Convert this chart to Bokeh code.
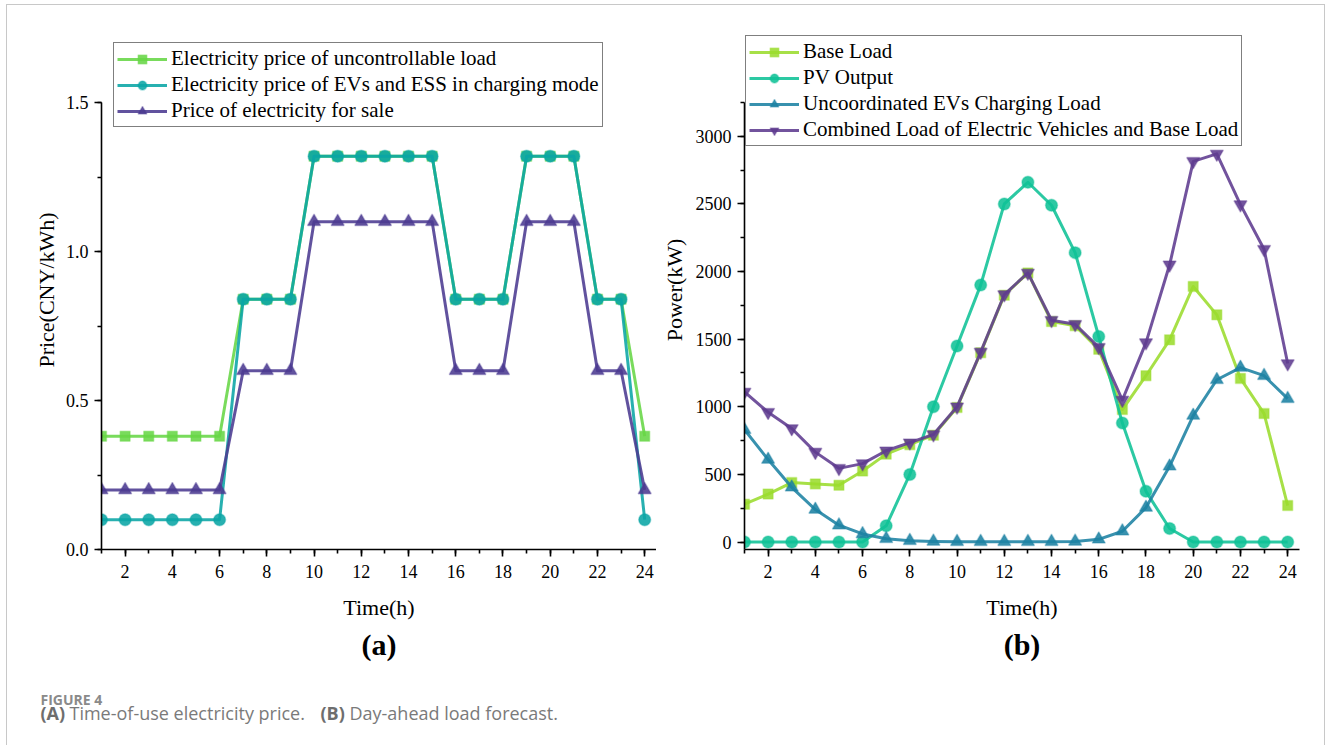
from bokeh.plotting import figure
from bokeh.models import Range1d, SingleIntervalTicker, Title, Label, NumeralTickFormatter
from bokeh.layouts import column, row
from bokeh.embed import file_html
from bokeh.resources import INLINE

# ---------------- data ----------------
hours = [1, 2, 3, 4, 5, 6, 7, 8, 9, 10, 11, 12, 13, 14, 15, 16, 17, 18, 19, 20, 21, 22, 23, 24]

price_uncontrollable = [0.38, 0.38, 0.38, 0.38, 0.38, 0.38, 0.84, 0.84, 0.84, 1.32, 1.32, 1.32,
                        1.32, 1.32, 1.32, 0.84, 0.84, 0.84, 1.32, 1.32, 1.32, 0.84, 0.84, 0.38]
price_ev_ess = [0.10, 0.10, 0.10, 0.10, 0.10, 0.10, 0.84, 0.84, 0.84, 1.32, 1.32, 1.32,
                1.32, 1.32, 1.32, 0.84, 0.84, 0.84, 1.32, 1.32, 1.32, 0.84, 0.84, 0.10]
price_sale = [0.20, 0.20, 0.20, 0.20, 0.20, 0.20, 0.60, 0.60, 0.60, 1.10, 1.10, 1.10,
              1.10, 1.10, 1.10, 0.60, 0.60, 0.60, 1.10, 1.10, 1.10, 0.60, 0.60, 0.20]

base_load = [280, 355, 440, 430, 420, 525, 650, 720, 790, 995, 1400, 1825,
             1990, 1630, 1600, 1425, 980, 1230, 1495, 1890, 1680, 1210, 950, 270]
pv_output = [0, 0, 0, 0, 0, 0, 120, 500, 1000, 1450, 1900, 2500,
             2660, 2490, 2140, 1520, 880, 375, 100, 0, 0, 0, 0, 0]
ev_uncoordinated = [830, 610, 405, 240, 125, 60, 25, 10, 5, 3, 3, 3,
                    3, 3, 5, 20, 80, 255, 560, 935, 1200, 1290, 1230, 1060]
combined_load = [1110, 960, 840, 665, 545, 580, 675, 735, 795, 1000, 1405, 1830,
                 1990, 1640, 1610, 1440, 1050, 1475, 2050, 2815, 2870, 2495, 2165, 1320]

labels_a = ["Electricity price of uncontrollable load",
            "Electricity price of EVs and ESS in charging mode",
            "Price of electricity for sale"]
labels_b = ["Base Load", "PV Output", "Uncoordinated EVs Charging Load",
            "Combined Load of Electric Vehicles and Base Load"]

SERIF = "Liberation Serif"
SANS = "Open Sans"

FRAME_H = 519          # frame extends above the axis top so the legend fits
AXIS_H = 447           # visible axis height in pixels


def make_fig(width, y0, y1, y_interval, ylabel, left, right, fmt, ylab_standoff):
    ytop = y0 + (y1 - y0) * FRAME_H / AXIS_H
    p = figure(width=width, height=665, x_range=Range1d(1, 24.5), y_range=Range1d(y0, ytop),
               output_backend="svg", toolbar_location=None,
               min_border_left=left, min_border_right=right,
               min_border_top=25, min_border_bottom=121)
    p.outline_line_color = None
    p.grid.visible = False
    p.background_fill_color = "white"
    p.border_fill_color = "white"
    p.xaxis.ticker = SingleIntervalTicker(interval=2, num_minor_ticks=2)
    p.yaxis.ticker = SingleIntervalTicker(interval=y_interval, num_minor_ticks=2)
    p.yaxis.formatter = NumeralTickFormatter(format=fmt)
    p.yaxis.bounds = (y0, y1)
    for ax in (p.xaxis[0], p.yaxis[0]):
        ax.axis_line_width = 1.6
        ax.axis_line_color = "black"
        ax.major_tick_line_width = 1.6
        ax.minor_tick_line_width = 1.6
        ax.major_tick_line_color = "black"
        ax.minor_tick_line_color = "black"
        ax.major_tick_in = 0
        ax.major_tick_out = 7
        ax.minor_tick_in = 0
        ax.minor_tick_out = 4
        ax.major_label_text_font = SERIF
        ax.major_label_text_font_size = "18px"
        ax.major_label_text_color = "black"
        ax.axis_label_text_font = SERIF
        ax.axis_label_text_font_size = "22px"
        ax.axis_label_text_font_style = "normal"
        ax.axis_label_text_color = "black"
    p.xaxis.axis_label = "Time(h)"
    p.xaxis.major_label_standoff = 8
    p.xaxis.axis_label_standoff = 14
    p.yaxis.axis_label = ylabel
    p.yaxis.major_label_standoff = 6
    p.yaxis.axis_label_standoff = ylab_standoff
    return p


def add_series(p, ys, color, marker, size, label, alpha=0.88):
    p.line(hours, ys, line_color=color, line_width=3, line_alpha=alpha,
           line_join="round", legend_label=label)
    p.scatter(hours, ys, marker=marker, size=size, fill_color=color, fill_alpha=alpha,
              line_color=color, line_alpha=0.35, line_width=1.5, legend_label=label)


def style_legend(p, loc):
    lg = p.legend[0]
    lg.location = loc
    lg.label_text_font = SERIF
    lg.label_text_font_size = "21px"
    lg.label_text_color = "black"
    lg.label_height = 22
    lg.glyph_height = 22
    lg.glyph_width = 50
    lg.label_standoff = 4
    lg.spacing = 1
    lg.padding = 3
    lg.margin = 0
    lg.border_line_color = "black"
    lg.border_line_width = 1
    lg.background_fill_color = "white"
    lg.background_fill_alpha = 1.0


# ---------------- (a) ----------------
pa = make_fig(649, 0, 1.5, 0.5, "Price(CNY/kWh)", 94, 0, "0.0", 4)
add_series(pa, price_uncontrollable, "#66d645", "square", 10, labels_a[0])
add_series(pa, price_ev_ess, "#0aa5a5", "circle", 12, labels_a[1])
add_series(pa, price_sale, "#4b3a91", "triangle", 13, labels_a[2])
style_legend(pa, (12, 422))
pa.add_layout(Title(text="(a)", align="center", text_font=SERIF, text_font_size="30px",
                    text_font_style="bold", text_color="black", standoff=6), "below")

# ---------------- (b) ----------------
pb = make_fig(668, -55, 3250, 500, "Power(kW)", 88, 25, "0", 6)
add_series(pb, base_load, "#9bdc2e", "square", 10, labels_b[0])
add_series(pb, pv_output, "#0fc196", "circle", 12, labels_b[1])
add_series(pb, ev_uncoordinated, "#1c82a3", "triangle", 13, labels_b[2])
add_series(pb, combined_load, "#5f3b90", "inverted_triangle", 13, labels_b[3])
style_legend(pb, (1, 403))
pb.add_layout(Title(text="(b)", align="center", text_font=SERIF, text_font_size="30px",
                    text_font_style="bold", text_color="black", standoff=6), "below")

# ---------------- caption ----------------
cap = figure(width=1317, height=75, x_range=Range1d(0, 1), y_range=Range1d(0, 1),
             output_backend="svg", toolbar_location=None, min_border=0,
             x_axis_type=None, y_axis_type=None)
cap.outline_line_color = None
cap.grid.visible = False
cap.add_layout(Label(x=33, y=46, x_units="screen", y_units="screen", text="FIGURE 4",
                     text_font=SANS, text_font_size="14px", text_font_style="bold",
                     text_color="#8a8a8a", text_baseline="alphabetic"))
cap.add_layout(Label(x=33, y=33, x_units="screen", y_units="screen", text="(A)",
                     text_font=SANS, text_font_size="18px", text_font_style="bold",
                     text_color="#6e6e6e", text_baseline="alphabetic"))
cap.add_layout(Label(x=62, y=33, x_units="screen", y_units="screen",
                     text="Time-of-use electricity price.",
                     text_font=SANS, text_font_size="18px", text_color="#7a7a7a",
                     text_baseline="alphabetic"))
cap.add_layout(Label(x=313, y=33, x_units="screen", y_units="screen", text="(B)",
                     text_font=SANS, text_font_size="18px", text_font_style="bold",
                     text_color="#6e6e6e", text_baseline="alphabetic"))
cap.add_layout(Label(x=342, y=33, x_units="screen", y_units="screen",
                     text="Day-ahead load forecast.",
                     text_font=SANS, text_font_size="18px", text_color="#7a7a7a",
                     text_baseline="alphabetic"))

layout = column(row(pa, pb), cap, margin=(4, 0, 0, 6),
                styles={"border-top": "1px solid #c8c8c8", "border-left": "1px solid #c8c8c8",
                        "border-right": "1px solid #c8c8c8"})

open("out.html", "w").write(file_html(layout, INLINE))
